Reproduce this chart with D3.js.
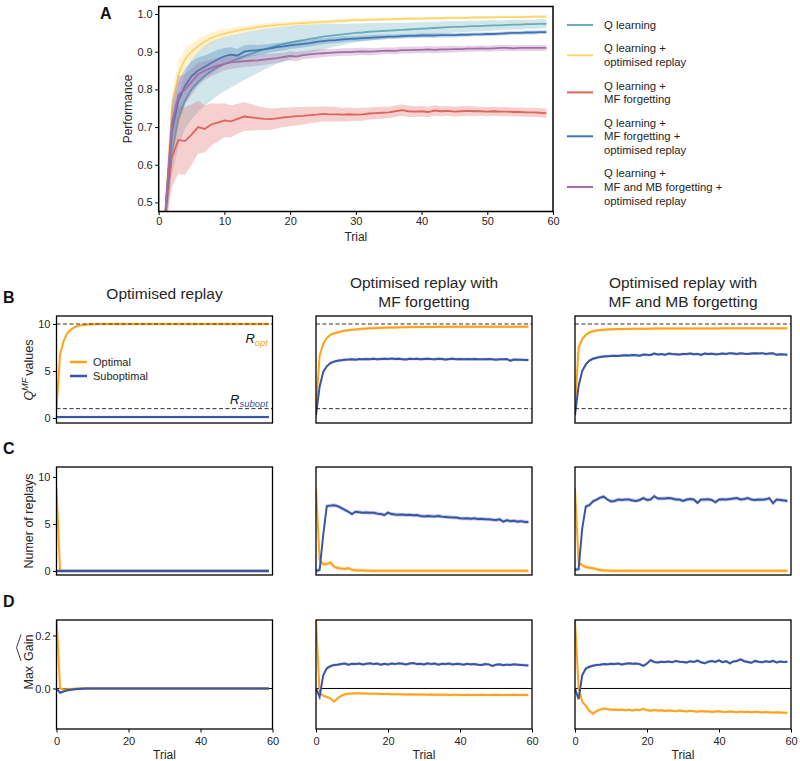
<!DOCTYPE html>
<html><head><meta charset="utf-8">
<script src="https://cdn.jsdelivr.net/npm/d3@7"></script>
<style>body{margin:0;background:#fff}</style>
</head><body><svg id="chart"></svg>
<script>
// ---------------- DATA ----------------
// Panel A: performance, trials 1..59
const perfTicks = [0.5, 0.6, 0.7, 0.8, 0.9, 1.0];
const trialTicksA = [0, 10, 20, 30, 40, 50, 60];
const seriesNamesA = [["Q learning"], ["Q learning +", "optimised replay"], ["Q learning +", "MF forgetting"], ["Q learning +", "MF forgetting +", "optimised replay"], ["Q learning +", "MF and MB forgetting +", "optimised replay"]];
const colorsA = ["#65adba", "#fdd56c", "#e0645d", "#3f76b2", "#a56ca7"];

const qLearning = [0.45,0.63,0.72,0.77,0.80,0.82,0.836,0.849,0.859,0.867,
0.874,0.881,0.888,0.894,0.90,0.906,0.911,0.916,0.92,0.924,
0.928,0.931,0.934,0.937,0.94,0.942,0.944,0.946,0.948,0.95,
0.951,0.953,0.954,0.955,0.956,0.957,0.958,0.959,0.96,0.961,
0.962,0.963,0.964,0.965,0.966,0.966,0.967,0.968,0.968,0.969,
0.97,0.97,0.971,0.972,0.972,0.973,0.973,0.974,0.974];
const qLearningBand = [0.03,0.06,0.07,0.075,0.08,0.08,0.08,0.078,0.075,0.072,
0.069,0.066,0.063,0.06,0.057,0.054,0.051,0.048,0.046,0.044,
0.042,0.04,0.038,0.036,0.034,0.032,0.03,0.028,0.026,0.025,
0.024,0.023,0.022,0.021,0.02,0.019,0.019,0.018,0.018,0.017,
0.017,0.016,0.016,0.016,0.015,0.015,0.015,0.014,0.014,0.014,
0.014,0.013,0.013,0.013,0.013,0.012,0.012,0.012,0.012];

const qReplay = [0.47,0.75,0.84,0.88,0.90,0.915,0.927,0.936,0.943,0.948,
0.952,0.956,0.959,0.962,0.965,0.967,0.969,0.971,0.972,0.974,
0.975,0.976,0.977,0.978,0.979,0.98,0.981,0.982,0.983,0.984,
0.984,0.985,0.985,0.986,0.986,0.987,0.987,0.988,0.988,0.988,
0.989,0.989,0.989,0.99,0.99,0.99,0.99,0.991,0.991,0.991,
0.991,0.992,0.992,0.992,0.992,0.992,0.993,0.993,0.993];
const qReplayBand = [0.02,0.04,0.035,0.028,0.022,0.019,0.017,0.015,0.013,0.012,
0.011,0.01,0.009,0.009,0.008,0.008,0.007,0.007,0.007,0.006,
0.006,0.006,0.006,0.005,0.005,0.005,0.005,0.005,0.005,0.004,
0.004,0.004,0.004,0.004,0.004,0.004,0.004,0.004,0.004,0.004,
0.004,0.004,0.004,0.004,0.004,0.004,0.004,0.004,0.004,0.004,
0.004,0.004,0.004,0.004,0.004,0.004,0.004,0.004,0.004];

const qForget = [0.47,0.62,0.666,0.663,0.68,0.70,0.695,0.707,0.712,0.718,
0.715,0.722,0.728,0.726,0.724,0.722,0.721,0.723,0.726,0.727,
0.729,0.73,0.732,0.733,0.735,0.734,0.734,0.733,0.734,0.733,
0.734,0.736,0.737,0.738,0.739,0.742,0.745,0.742,0.741,0.742,
0.74,0.744,0.742,0.743,0.741,0.742,0.743,0.742,0.742,0.741,
0.742,0.741,0.741,0.74,0.74,0.739,0.739,0.738,0.737];
const qForgetBand = [0.05,0.08,0.09,0.09,0.08,0.07,0.062,0.056,0.05,0.045,
0.042,0.04,0.038,0.035,0.032,0.03,0.028,0.027,0.026,0.025,
0.024,0.023,0.022,0.021,0.02,0.02,0.019,0.018,0.018,0.017,
0.017,0.016,0.016,0.016,0.015,0.015,0.015,0.015,0.014,0.014,
0.014,0.014,0.013,0.013,0.013,0.013,0.013,0.013,0.012,0.012,
0.012,0.012,0.012,0.012,0.012,0.012,0.012,0.012,0.012];

const qForgetReplay = [0.47,0.69,0.77,0.81,0.835,0.85,0.86,0.87,0.88,0.888,
0.892,0.89,0.9,0.903,0.904,0.906,0.909,0.912,0.914,0.917,
0.919,0.921,0.923,0.926,0.928,0.93,0.931,0.933,0.934,0.935,
0.936,0.937,0.938,0.939,0.94,0.94,0.941,0.942,0.942,0.943,
0.943,0.943,0.944,0.944,0.944,0.945,0.945,0.946,0.946,0.947,
0.947,0.948,0.949,0.95,0.95,0.951,0.951,0.952,0.952];
const qForgetReplayBand = [0.03,0.05,0.05,0.045,0.04,0.035,0.03,0.028,0.025,0.022,
0.02,0.018,0.017,0.016,0.014,0.013,0.012,0.011,0.011,0.01,
0.01,0.009,0.009,0.009,0.008,0.008,0.008,0.008,0.007,0.007,
0.007,0.007,0.007,0.007,0.006,0.006,0.006,0.006,0.006,0.006,
0.006,0.006,0.006,0.006,0.006,0.005,0.005,0.005,0.005,0.005,
0.005,0.005,0.005,0.005,0.005,0.005,0.005,0.005,0.005];

const qMFMB = [0.47,0.71,0.785,0.80,0.82,0.84,0.85,0.857,0.863,0.868,
0.872,0.873,0.875,0.876,0.877,0.879,0.881,0.883,0.886,0.889,
0.887,0.891,0.893,0.895,0.896,0.897,0.898,0.899,0.899,0.9,
0.901,0.9,0.901,0.902,0.903,0.902,0.904,0.904,0.905,0.905,
0.906,0.905,0.906,0.906,0.907,0.907,0.908,0.908,0.909,0.908,
0.909,0.91,0.91,0.909,0.91,0.91,0.91,0.91,0.91];
const qMFMBBand = [0.04,0.06,0.05,0.04,0.035,0.03,0.025,0.022,0.02,0.018,
0.017,0.016,0.015,0.015,0.014,0.014,0.013,0.013,0.012,0.012,
0.012,0.011,0.011,0.011,0.011,0.01,0.01,0.01,0.01,0.01,
0.01,0.01,0.009,0.009,0.009,0.009,0.009,0.009,0.009,0.009,
0.009,0.009,0.009,0.009,0.009,0.008,0.008,0.008,0.008,0.008,
0.008,0.008,0.008,0.008,0.008,0.008,0.008,0.008,0.008];

// Panels B-D: trials 0..59
const colTitles = [["Optimised replay"], ["Optimised replay with", "MF forgetting"], ["Optimised replay with", "MF and MB forgetting"]];
const legendSmall = ["Optimal", "Suboptimal"];
const trialTicks = [0, 20, 40, 60];
const qTicks = [0, 5, 10];
const replayTicks = [0, 5, 10];
const gainTicks = [0.0, 0.2];
const rOpt = 10, rSubopt = 1;

const bOpt1 = [1.0,6.8,8.2,9.0,9.4,9.65,9.8,9.88,9.93,9.96,
9.98,9.99,10,10,10,10,10,10,10,10,
10,10,10,10,10,10,10,10,10,10,
10,10,10,10,10,10,10,10,10,10,
10,10,10,10,10,10,10,10,10,10,
10,10,10,10,10,10,10,10,10,10];
const bSub1 = [0.1,0.1,0.1,0.1,0.1,0.1,0.1,0.1,0.1,0.1,
0.1,0.1,0.1,0.1,0.1,0.1,0.1,0.1,0.1,0.1,
0.1,0.1,0.1,0.1,0.1,0.1,0.1,0.1,0.1,0.1,
0.1,0.1,0.1,0.1,0.1,0.1,0.1,0.1,0.1,0.1,
0.1,0.1,0.1,0.1,0.1,0.1,0.1,0.1,0.1,0.1,
0.1,0.1,0.1,0.1,0.1,0.1,0.1,0.1,0.1,0.1];
const bOpt2 = [1.0,6.6,7.9,8.5,8.85,9.0,9.1,9.2,9.27,9.33,
9.38,9.42,9.46,9.49,9.52,9.54,9.56,9.58,9.6,9.61,
9.62,9.63,9.64,9.65,9.66,9.66,9.67,9.67,9.68,9.68,
9.68,9.69,9.69,9.69,9.7,9.7,9.7,9.7,9.7,9.71,
9.71,9.71,9.71,9.71,9.71,9.72,9.72,9.72,9.72,9.72,
9.72,9.72,9.72,9.72,9.72,9.72,9.72,9.72,9.72,9.72];
const bSub2 = [0.3,3.3,4.9,5.5,5.85,6.0,6.1,6.15,6.2,6.22,
6.25,6.2,6.27,6.25,6.28,6.26,6.3,6.25,6.28,6.3,
6.27,6.32,6.28,6.3,6.26,6.22,6.3,6.27,6.3,6.25,
6.28,6.3,6.27,6.25,6.3,6.28,6.22,6.27,6.3,6.26,
6.28,6.25,6.27,6.25,6.28,6.24,6.26,6.25,6.27,6.26,
6.2,6.25,6.24,6.27,6.1,6.22,6.2,6.2,6.18,6.17];
const bOpt3 = [1.0,7.5,8.4,8.85,9.1,9.22,9.3,9.35,9.4,9.42,
9.44,9.45,9.46,9.47,9.48,9.48,9.49,9.49,9.5,9.5,
9.5,9.5,9.51,9.51,9.51,9.51,9.52,9.52,9.52,9.52,
9.52,9.52,9.53,9.53,9.53,9.53,9.53,9.53,9.53,9.53,
9.53,9.54,9.54,9.54,9.54,9.54,9.54,9.54,9.54,9.54,
9.54,9.54,9.54,9.54,9.54,9.54,9.54,9.54,9.54,9.54];
const bSub3 = [0.3,3.4,5.0,5.7,6.1,6.3,6.4,6.5,6.55,6.58,
6.6,6.62,6.6,6.65,6.68,6.65,6.7,6.68,6.62,6.75,
6.72,6.7,6.85,6.75,6.8,6.72,6.85,6.8,6.78,6.75,
6.82,6.8,6.85,6.78,6.82,6.72,6.85,6.8,6.84,6.78,
6.8,6.85,6.82,6.9,6.85,6.8,6.88,6.84,6.82,6.86,
6.88,6.85,6.9,6.82,6.85,6.88,6.72,6.78,6.76,6.72];

const cOpt1 = [8.8,0,0,0,0,0,0,0,0,0,
0,0,0,0,0,0,0,0,0,0,
0,0,0,0,0,0,0,0,0,0,
0,0,0,0,0,0,0,0,0,0,
0,0,0,0,0,0,0,0,0,0,
0,0,0,0,0,0,0,0,0,0];
const cSub1 = [0,0,0,0,0,0,0,0,0,0,
0,0,0,0,0,0,0,0,0,0,
0,0,0,0,0,0,0,0,0,0,
0,0,0,0,0,0,0,0,0,0,
0,0,0,0,0,0,0,0,0,0,
0,0,0,0,0,0,0,0,0,0];
const cOpt2 = [8.8,1.2,0.7,0.75,0.9,0.45,0.32,0.25,0.22,0.3,
0.12,0.08,0.05,0.04,0.03,0.03,0.02,0.02,0.02,0.02,
0.02,0.02,0.02,0.02,0.02,0.02,0.02,0.02,0.02,0.02,
0.02,0.02,0.02,0.02,0.02,0.02,0.02,0.02,0.02,0.02,
0.02,0.02,0.02,0.02,0.02,0.02,0.02,0.02,0.02,0.02,
0.02,0.02,0.02,0.02,0.02,0.02,0.02,0.02,0.02,0.02];
const cSub2 = [0,0.1,3.8,6.9,6.95,7.0,6.9,6.7,6.5,6.3,
6.05,6.3,6.25,6.2,6.22,6.18,6.2,6.1,6.05,5.95,
6.2,6.05,6.0,5.98,6.0,5.95,5.97,5.92,5.95,5.85,
5.8,5.85,5.82,5.8,5.85,5.78,5.75,5.72,5.7,5.68,
5.6,5.58,5.6,5.55,5.6,5.52,5.55,5.5,5.5,5.45,
5.42,5.5,5.25,5.4,5.3,5.35,5.25,5.3,5.22,5.2];
const cOpt3 = [8.8,0.9,0.6,0.42,0.35,0.28,0.18,0.1,0.06,0.04,
0.03,0.02,0.02,0.02,0.02,0.02,0.02,0.02,0.02,0.02,
0.02,0.02,0.02,0.02,0.02,0.02,0.02,0.02,0.02,0.02,
0.02,0.02,0.02,0.02,0.02,0.02,0.02,0.02,0.02,0.02,
0.02,0.02,0.02,0.02,0.02,0.02,0.02,0.02,0.02,0.02,
0.02,0.02,0.02,0.02,0.02,0.02,0.02,0.02,0.02,0.02];
const cSub3 = [0.15,0.18,4.5,6.85,7.0,7.4,7.6,7.8,7.9,7.6,
7.4,7.45,7.6,7.55,7.6,7.6,7.5,7.45,7.55,7.75,
7.55,7.6,7.95,7.7,7.7,7.72,7.75,7.7,7.6,7.6,
7.45,7.6,7.65,7.6,7.25,7.6,7.6,7.62,7.55,7.3,
7.6,7.62,7.6,7.65,7.7,7.75,7.6,7.65,7.75,7.6,
7.55,7.6,7.58,7.62,7.75,7.2,7.6,7.55,7.5,7.45];

const dOpt1 = [0.27,0.0,-0.004,-0.003,-0.002,-0.001,0,0,0,0,
0,0,0,0,0,0,0,0,0,0,
0,0,0,0,0,0,0,0,0,0,
0,0,0,0,0,0,0,0,0,0,
0,0,0,0,0,0,0,0,0,0,
0,0,0,0,0,0,0,0,0,0];
const dSub1 = [0,-0.016,-0.011,-0.007,-0.005,-0.003,-0.002,-0.001,0,0,
0,0,0,0,0,0,0,0,0,0,
0,0,0,0,0,0,0,0,0,0,
0,0,0,0,0,0,0,0,0,0,
0,0,0,0,0,0,0,0,0,0,
0,0,0,0,0,0,0,0,0,0];
const dOpt2 = [0.26,-0.018,-0.027,-0.032,-0.037,-0.05,-0.037,-0.028,-0.022,-0.02,
-0.019,-0.018,-0.018,-0.019,-0.019,-0.02,-0.02,-0.02,-0.021,-0.021,
-0.021,-0.022,-0.022,-0.022,-0.022,-0.023,-0.022,-0.023,-0.023,-0.023,
-0.023,-0.024,-0.023,-0.024,-0.024,-0.024,-0.024,-0.025,-0.024,-0.024,
-0.025,-0.025,-0.024,-0.025,-0.025,-0.025,-0.024,-0.025,-0.025,-0.025,
-0.024,-0.025,-0.025,-0.025,-0.025,-0.024,-0.025,-0.025,-0.024,-0.025];
const dSub2 = [0,-0.032,0.05,0.076,0.084,0.089,0.09,0.092,0.094,0.09,
0.093,0.092,0.094,0.091,0.093,0.095,0.092,0.094,0.09,0.093,
0.091,0.094,0.092,0.095,0.093,0.091,0.094,0.096,0.092,0.093,
0.091,0.095,0.092,0.094,0.09,0.093,0.092,0.094,0.091,0.093,
0.092,0.09,0.093,0.091,0.092,0.09,0.089,0.092,0.091,0.085,
0.09,0.091,0.088,0.09,0.089,0.091,0.09,0.089,0.088,0.087];
const dOpt3 = [0.26,0.0,-0.05,-0.065,-0.085,-0.095,-0.085,-0.08,-0.076,-0.078,
-0.08,-0.079,-0.081,-0.08,-0.082,-0.08,-0.083,-0.08,-0.082,-0.077,
-0.082,-0.084,-0.081,-0.083,-0.082,-0.085,-0.083,-0.084,-0.086,-0.083,
-0.085,-0.087,-0.084,-0.086,-0.088,-0.085,-0.087,-0.086,-0.089,-0.087,
-0.086,-0.088,-0.089,-0.087,-0.088,-0.09,-0.087,-0.089,-0.088,-0.09,
-0.088,-0.089,-0.091,-0.089,-0.09,-0.091,-0.09,-0.091,-0.092,-0.092];
const dSub3 = [0,-0.04,0.05,0.075,0.082,0.086,0.089,0.09,0.092,0.091,
0.093,0.092,0.094,0.091,0.093,0.095,0.093,0.094,0.092,0.085,
0.094,0.107,0.1,0.098,0.101,0.1,0.102,0.099,0.104,0.101,
0.1,0.098,0.103,0.1,0.105,0.099,0.095,0.101,0.104,0.1,
0.106,0.099,0.103,0.095,0.102,0.104,0.11,0.103,0.1,0.097,
0.104,0.101,0.099,0.103,0.1,0.104,0.098,0.102,0.1,0.101];

// ---------------- DRAWING ----------------
const W = 800, H = 761;
const FONT = '"Liberation Sans", Arial, Helvetica, sans-serif';
const TXT = '#262626';
const ORANGE = '#ffa31a', BLUE = '#3a55a6';
const svg = d3.select('#chart').attr('width', W).attr('height', H);
svg.append('rect').attr('width', W).attr('height', H).attr('fill', '#fff');
const defs = svg.append('defs');
let clipN = 0;
function makeClip(x0, x1, y0, y1) {
  const id = 'clip' + (clipN++);
  defs.append('clipPath').attr('id', id).append('rect')
    .attr('x', x0).attr('y', y0).attr('width', x1 - x0).attr('height', y1 - y0);
  return 'url(#' + id + ')';
}
function styleAxis(g, size) {
  g.select('.domain').remove();
  g.selectAll('line').attr('stroke', '#000').attr('stroke-width', 1);
  g.selectAll('text').attr('font-size', size).attr('font-family', FONT).attr('fill', TXT);
}
function txt(x, y, s, size, opts = {}) {
  return svg.append('text').attr('x', x).attr('y', y).text(s)
    .attr('font-family', FONT).attr('font-size', size).attr('fill', opts.fill || TXT)
    .attr('text-anchor', opts.anchor || 'start').attr('font-weight', opts.weight || 'normal');
}

// ---- Panel A ----
const xA = d3.scaleLinear().domain([0, 60]).range([158.7, 553]);
const yA = d3.scaleLinear().domain([0.476, 1.02]).range([211.5, 6.5]);
const seriesA = [
  { mean: qLearning, band: qLearningBand },
  { mean: qReplay, band: qReplayBand },
  { mean: qForget, band: qForgetBand },
  { mean: qForgetReplay, band: qForgetReplayBand },
  { mean: qMFMB, band: qMFMBBand }
];
const plotA = svg.append('g').attr('clip-path', makeClip(xA.range()[0], xA.range()[1], yA.range()[1], yA.range()[0]));
seriesA.forEach((s, k) => {
  const pts = s.mean.map((v, i) => ({ t: i + 1, v: v, b: s.band[i] }));
  plotA.append('path').datum(pts)
    .attr('d', d3.area().x(d => xA(d.t)).y0(d => yA(d.v - d.b)).y1(d => yA(d.v + d.b)))
    .attr('fill', colorsA[k]).attr('fill-opacity', 0.3).attr('stroke', 'none');
  plotA.append('path').datum(pts)
    .attr('d', d3.line().x(d => xA(d.t)).y(d => yA(d.v)))
    .attr('fill', 'none').attr('stroke', colorsA[k]).attr('stroke-width', 1.8);
});
const axYA = svg.append('g').attr('transform', `translate(${xA.range()[0]},0)`)
  .call(d3.axisLeft(yA).tickValues(perfTicks).tickSize(3.5).tickPadding(2.5).tickFormat(d3.format('.1f')));
styleAxis(axYA, 11);
const axXA = svg.append('g').attr('transform', `translate(0,${yA.range()[0]})`)
  .call(d3.axisBottom(xA).tickValues(trialTicksA).tickSize(3.5).tickPadding(2).tickFormat(d3.format('d')));
styleAxis(axXA, 11);
svg.append('rect').attr('x', xA.range()[0]).attr('y', yA.range()[1])
  .attr('width', xA.range()[1] - xA.range()[0]).attr('height', yA.range()[0] - yA.range()[1])
  .attr('fill', 'none').attr('stroke', '#000').attr('stroke-width', 1.5);
txt((xA.range()[0] + xA.range()[1]) / 2, 240.5, 'Trial', 12, { anchor: 'middle' });
svg.append('text').attr('transform', `translate(132,${(yA.range()[0] + yA.range()[1]) / 2}) rotate(-90)`)
  .attr('text-anchor', 'middle').attr('font-family', FONT).attr('font-size', 12).attr('fill', TXT).text('Performance');
txt(100, 19, 'A', 16, { weight: 'bold', fill: '#111' });

// legend A
{
  let y = 25;
  seriesNamesA.forEach((lines, k) => {
    const ys = lines.map((l, j) => y + j * 13.6);
    const mid = (ys[0] + ys[ys.length - 1]) / 2;
    svg.append('line').attr('x1', 567).attr('x2', 593).attr('y1', mid).attr('y2', mid)
      .attr('stroke', colorsA[k]).attr('stroke-width', 2);
    lines.forEach((l, j) => txt(604, ys[j], l, 11.3).attr('dy', '0.35em'));
    y = ys[ys.length - 1] + 23.5;
  });
}

// ---- Panels B-D ----
const colX = [[56.5, 272.5], [316, 532], [575, 791]];
const rowsDef = [
  { letter: 'B', letterY: 303, y: [316, 423], dom: [-0.53, 10.85], ticks: qTicks, fmt: d3.format('d'), band: 0.15,
    data: [[bOpt1, bSub1], [bOpt2, bSub2], [bOpt3, bSub3]] },
  { letter: 'C', letterY: 454, y: [467, 575], dom: [-0.43, 11.06], ticks: replayTicks, fmt: d3.format('d'), band: 0.2,
    data: [[cOpt1, cSub1], [cOpt2, cSub2], [cOpt3, cSub3]] },
  { letter: 'D', letterY: 607, y: [620, 729], dom: [-0.153, 0.2585], ticks: gainTicks, fmt: d3.format('.1f'), band: 0.005,
    data: [[dOpt1, dSub1], [dOpt2, dSub2], [dOpt3, dSub3]] }
];
rowsDef.forEach((row, r) => {
  const y = d3.scaleLinear().domain(row.dom).range([row.y[1], row.y[0]]);
  txt(3, row.letterY, row.letter, 16, { weight: 'bold', fill: '#111' });
  colX.forEach((cx, c) => {
    const x = d3.scaleLinear().domain([0, 60]).range(cx);
    const g = svg.append('g').attr('clip-path', makeClip(cx[0], cx[1], row.y[0], row.y[1]));
    if (r === 2) {
      g.append('line').attr('x1', cx[0]).attr('x2', cx[1]).attr('y1', y(0)).attr('y2', y(0))
        .attr('stroke', '#000').attr('stroke-width', 1);
    }
    [ORANGE, BLUE].forEach((col, s) => {
      const pts = row.data[c][s].map((v, i) => ({ t: i, v: v }));
      g.append('path').datum(pts)
        .attr('d', d3.area().x(d => x(d.t)).y0(d => y(d.v - row.band)).y1(d => y(d.v + row.band)))
        .attr('fill', col).attr('fill-opacity', 0.3);
      g.append('path').datum(pts)
        .attr('d', d3.line().x(d => x(d.t)).y(d => y(d.v)))
        .attr('fill', 'none').attr('stroke', col).attr('stroke-width', 2);
    });
    if (r === 0) {
      [rOpt, rSubopt].forEach(v => {
        g.append('line').attr('x1', cx[0]).attr('x2', cx[1]).attr('y1', y(v)).attr('y2', y(v))
          .attr('stroke', '#333').attr('stroke-width', 1).attr('stroke-dasharray', '4,2.5');
      });
    }
    if (c === 0) {
      const ax = svg.append('g').attr('transform', `translate(${cx[0]},0)`)
        .call(d3.axisLeft(y).tickValues(row.ticks).tickSize(3.5).tickPadding(2.5).tickFormat(row.fmt));
      styleAxis(ax, 11);
    }
    if (r === 2) {
      const ax = svg.append('g').attr('transform', `translate(0,${row.y[1]})`)
        .call(d3.axisBottom(x).tickValues(trialTicks).tickSize(3.5).tickPadding(4.5).tickFormat(d3.format('d')));
      styleAxis(ax, 11);
      txt((cx[0] + cx[1]) / 2, 758.5, 'Trial', 12, { anchor: 'middle' });
    }
    svg.append('rect').attr('x', cx[0]).attr('y', row.y[0]).attr('width', cx[1] - cx[0])
      .attr('height', row.y[1] - row.y[0]).attr('fill', 'none').attr('stroke', '#000').attr('stroke-width', 1.3);
    if (r === 0) {
      const lines = colTitles[c];
      const cxm = (cx[0] + cx[1]) / 2;
      const y0 = lines.length === 1 ? 294 : 283;
      lines.forEach((l, j) => txt(cxm, y0 + j * 19, l, 15.5, { anchor: 'middle' }).attr('dy', '0.35em'));
    }
    if (r === 0 && c === 0) {
      // R labels
      const t1 = svg.append('text').attr('x', 268).attr('y', 343).attr('text-anchor', 'end')
        .attr('font-family', FONT).attr('font-style', 'italic');
      t1.append('tspan').text('R').attr('font-size', 13).attr('fill', '#111');
      t1.append('tspan').text('opt').attr('font-size', 9.5).attr('fill', ORANGE).attr('dy', 3);
      const t2 = svg.append('text').attr('x', 268).attr('y', 404).attr('text-anchor', 'end')
        .attr('font-family', FONT).attr('font-style', 'italic');
      t2.append('tspan').text('R').attr('font-size', 13).attr('fill', '#111');
      t2.append('tspan').text('subopt').attr('font-size', 9.5).attr('fill', BLUE).attr('dy', 3);
      // legend
      [ORANGE, BLUE].forEach((col, k) => {
        const ly = 362 + k * 14;
        svg.append('line').attr('x1', 70).attr('x2', 87).attr('y1', ly).attr('y2', ly)
          .attr('stroke', col).attr('stroke-width', 2.5);
        txt(93, ly, legendSmall[k], 11).attr('dy', '0.35em');
      });
    }
  });
});

// row labels
{
  const tB = svg.append('text').attr('transform', 'translate(33,370) rotate(-90)')
    .attr('text-anchor', 'middle').attr('font-family', FONT).attr('font-size', 12.5).attr('fill', TXT);
  tB.append('tspan').text('Q').attr('font-style', 'italic');
  tB.append('tspan').text('MF').attr('font-style', 'italic').attr('font-size', 9).attr('dy', -5.5);
  tB.append('tspan').text('values').attr('dy', 5.5).attr('dx', 2);

  svg.append('text').attr('transform', 'translate(33,521) rotate(-90)')
    .attr('text-anchor', 'middle').attr('font-family', FONT).attr('font-size', 12.5).attr('fill', TXT)
    .text('Numer of replays');

  const gD = svg.append('g').attr('transform', 'translate(33,662) rotate(-90)');
  const tMax = gD.append('text').attr('font-family', FONT).attr('font-size', 12.5).attr('fill', TXT).text('Max');
  const tGain = gD.append('text').attr('font-family', FONT).attr('font-size', 12.5).attr('fill', TXT).text('Gain');
  const wMax = tMax.node().getComputedTextLength();
  const wGain = tGain.node().getComputedTextLength();
  const gap = 5;
  const total = wMax + gap + wGain;
  const x0 = -total / 2;
  tMax.attr('x', x0);
  const gx = x0 + wMax + gap;
  tGain.attr('x', gx);
  gD.append('path').attr('d', `M${gx},-12 L${gx + wGain / 2},-16.5 L${gx + wGain},-12`)
    .attr('fill', 'none').attr('stroke', TXT).attr('stroke-width', 0.9);
}
</script></body></html>
